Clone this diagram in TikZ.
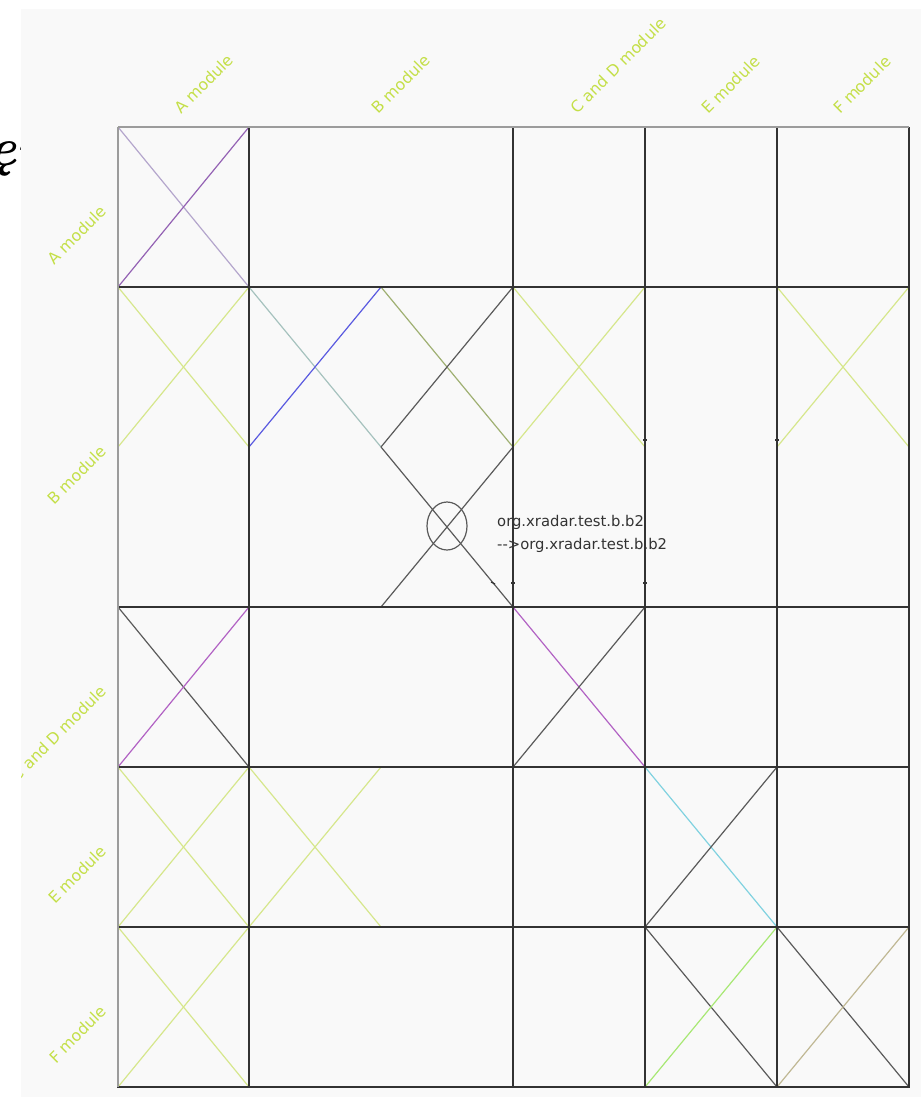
\documentclass[tikz,border=0pt]{standalone}
\usepackage{fontspec}
\newfontfamily\dejavu{DejaVu Sans}
\definecolor{bgc}{HTML}{F9F9F9}
\definecolor{gridc}{HTML}{333333}
\definecolor{gridlight}{HTML}{9C9C9C}
\definecolor{yg}{HTML}{D6E78C}
\definecolor{lblc}{HTML}{C4DF48}
\definecolor{lpurple}{HTML}{B4A6CC}
\definecolor{purpleA}{HTML}{9462B4}
\definecolor{magentaA}{HTML}{B262C4}
\definecolor{blueA}{HTML}{5A5AE0}
\definecolor{grayblue}{HTML}{A6C2BE}
\definecolor{oliveA}{HTML}{9FB072}
\definecolor{dk}{HTML}{5A5A5A}
\definecolor{cyanA}{HTML}{80D2E0}
\definecolor{lgreen}{HTML}{A8E874}
\definecolor{tanA}{HTML}{C0B894}
\definecolor{txt}{HTML}{333333}
\newcommand\mycross[6]{%
  \draw[diagline,#5] (#1,#2) -- (#3,#4);
  \draw[diagline,#6] (#1,#4) -- (#3,#2);}
\begin{document}
\begin{tikzpicture}[x=1pt,y=-1pt,
  diagline/.style={line width=1.2pt},
  gridline/.style={line width=2pt,draw=gridc},
  borderline/.style={line width=2pt,draw=gridlight},
  modlabel/.style={text=lblc,rotate=45,inner sep=0pt,font=\dejavu\fontsize{15.8}{18}\selectfont},
  pkgtext/.style={text=txt,inner sep=0pt,anchor=base west,font=\dejavu\fontsize{14.8}{18}\selectfont},
  tick/.style={line width=1.3pt,draw=gridc}]
\useasboundingbox (0,0) rectangle (921,1098);
% stray glyph at the left edge
\node[anchor=base west,inner sep=0pt,font=\fontsize{53}{53}\selectfont\bfseries\itshape] (stray) at (-12,165) {ęı};
% background
\fill[bgc] (21,9) rectangle (921,1097);
% diagonals
\mycross{118}{127}{249}{287}{lpurple}{purpleA}
\mycross{118}{287}{249}{447}{yg}{yg}
\mycross{249}{287}{381}{447}{grayblue}{blueA}
\mycross{381}{287}{513}{447}{oliveA}{dk}
\mycross{381}{447}{513}{607}{dk}{dk}
\mycross{513}{287}{645}{447}{yg}{yg}
\mycross{777}{287}{909}{447}{yg}{yg}
\mycross{118}{607}{249}{767}{dk}{magentaA}
\mycross{513}{607}{645}{767}{magentaA}{dk}
\mycross{118}{767}{249}{927}{yg}{yg}
\mycross{249}{767}{381}{927}{yg}{yg}
\mycross{645}{767}{777}{927}{cyanA}{dk}
\mycross{118}{927}{249}{1087}{yg}{yg}
\mycross{645}{927}{777}{1087}{dk}{lgreen}
\mycross{777}{927}{909}{1087}{dk}{tanA}
% grid
\foreach \gx in {249,513,645,777,909} \draw[gridline] (\gx,127) -- (\gx,1087);
\foreach \gy in {287,607,767,927} \draw[gridline] (118,\gy) -- (909,\gy);
\draw[gridline,line width=2.8pt] (117,1087) -- (910,1087);
\draw[borderline] (118,127) -- (909,127);
\draw[borderline] (118,127) -- (118,1087);
% ellipse and package text
\draw[dk,line width=1.2pt] (447,526) ellipse [x radius=20, y radius=24];
\node[pkgtext] (t1) at (497,526) {org.xradar.test.b.b2};
\node[pkgtext] (t2) at (497,549) {-->org.xradar.test.b.b2};
% small ticks
\draw[tick] (491,582) -- (495,584);
\draw[tick] (511,583) -- (515,583);
\draw[tick] (643,583) -- (647,583);
\draw[tick] (643,440) -- (647,440);
\draw[tick] (775,440) -- (779,440);
% module labels (clipped to background)
\begin{scope}
\clip (21,9) rectangle (921,1097);
\node[modlabel,anchor=base west] (ca) at (181,115) {A module};
\node[modlabel,anchor=base west] (cb) at (378.5,115) {B module};
\node[modlabel,anchor=base west] (ccd) at (577,115) {C and D module};
\node[modlabel,anchor=base west] (ce) at (708.5,115) {E module};
\node[modlabel,anchor=base west] (cf) at (840,115) {F module};
\node[modlabel,anchor=base east] (ra) at (108,212) {A module};
\node[modlabel,anchor=base east] (rb) at (108,452) {B module};
\node[modlabel,anchor=base east] (rcd) at (108,692) {C and D module};
\node[modlabel,anchor=base east] (re) at (108,852) {E module};
\node[modlabel,anchor=base east] (rf) at (108,1012) {F module};
\end{scope}
\end{tikzpicture}
\end{document}
